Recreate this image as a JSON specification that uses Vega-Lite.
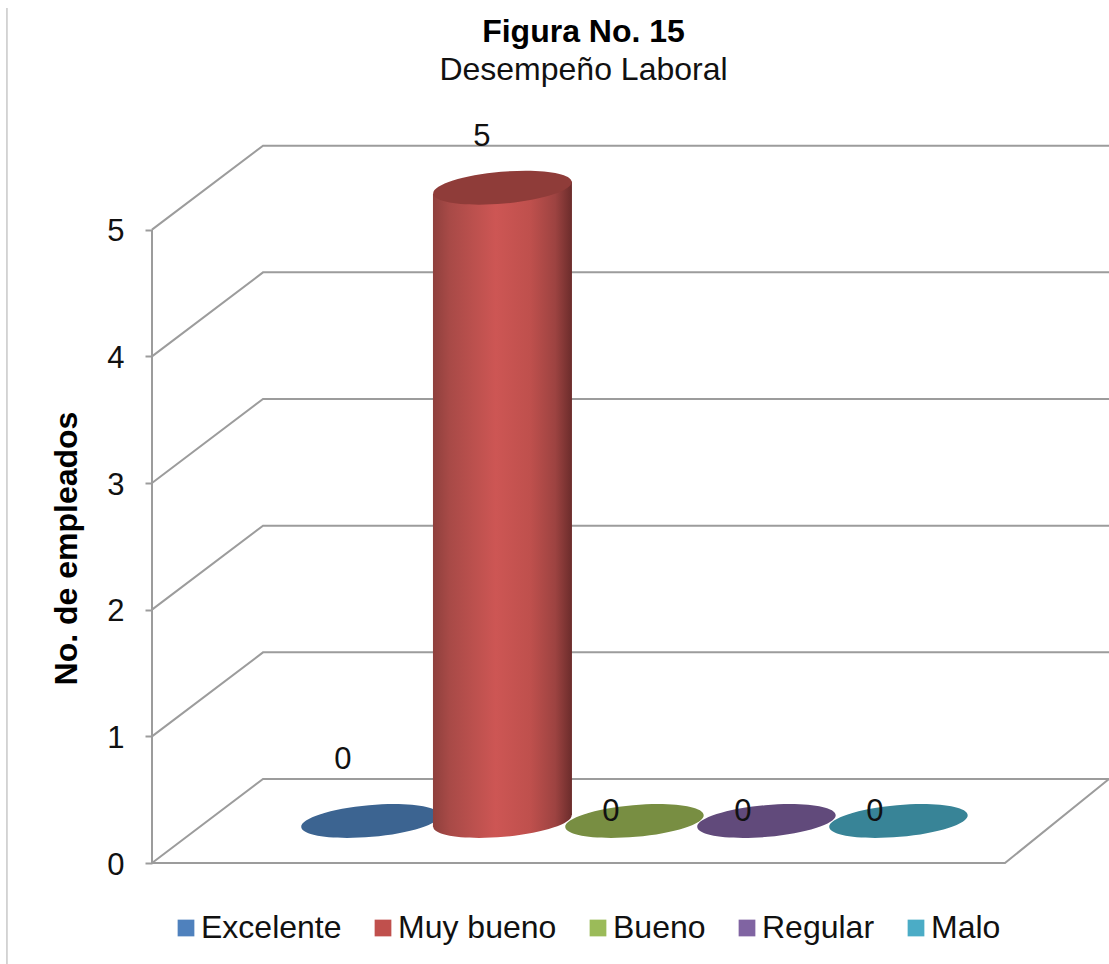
{
  "$schema": "https://vega.github.io/schema/vega-lite/v6.json",
  "autosize": {"type": "none"},
  "padding": {"left": 152, "top": 103, "right": 0, "bottom": 101},
  "width": 957,
  "height": 760,
  "background": "white",
  "view": {"stroke": null},
  "title": {
    "text": "Figura No. 15",
    "subtitle": "Desempeño Laboral",
    "anchor": "middle",
    "frame": "group",
    "dx": -47,
    "offset": -82,
    "font": "Liberation Sans",
    "fontSize": 32,
    "fontWeight": "bold",
    "color": "#000000",
    "subtitleFont": "Liberation Sans",
    "subtitleFontSize": 32,
    "subtitleColor": "#111111",
    "subtitlePadding": 6
  },
  "datasets": {
    "desempeno": [
      {"categoria": "Excelente", "pos": 1, "empleados": 0},
      {"categoria": "Muy bueno", "pos": 2, "empleados": 5},
      {"categoria": "Bueno", "pos": 3, "empleados": 0},
      {"categoria": "Regular", "pos": 4, "empleados": 0},
      {"categoria": "Malo", "pos": 5, "empleados": 0}
    ],
    "cuerpo": [
      {"x": 1.4735, "tope": 4.952, "base": -0.048},
      {"x": 2.5265, "tope": 5.048, "base": 0.048}
    ],
    "marco": [
      {"tramo": "eje", "x": -0.655, "y": 0},
      {"tramo": "eje", "x": -0.655, "y": 5},
      {"tramo": "frente", "x": -0.655, "y": 0},
      {"tramo": "frente", "x": 5.807, "y": 0},
      {"tramo": "frente", "x": 6.595, "y": 0.663},
      {"tramo": "n0", "x": -0.655, "y": 0},
      {"tramo": "n0", "x": 0.186, "y": 0.663},
      {"tramo": "n0", "x": 6.595, "y": 0.663},
      {"tramo": "n1", "x": -0.655, "y": 1},
      {"tramo": "n1", "x": 0.186, "y": 1.663},
      {"tramo": "n1", "x": 6.595, "y": 1.663},
      {"tramo": "n2", "x": -0.655, "y": 2},
      {"tramo": "n2", "x": 0.186, "y": 2.663},
      {"tramo": "n2", "x": 6.595, "y": 2.663},
      {"tramo": "n3", "x": -0.655, "y": 3},
      {"tramo": "n3", "x": 0.186, "y": 3.663},
      {"tramo": "n3", "x": 6.595, "y": 3.663},
      {"tramo": "n4", "x": -0.655, "y": 4},
      {"tramo": "n4", "x": 0.186, "y": 4.663},
      {"tramo": "n4", "x": 6.595, "y": 4.663},
      {"tramo": "n5", "x": -0.655, "y": 5},
      {"tramo": "n5", "x": 0.186, "y": 5.663},
      {"tramo": "n5", "x": 6.595, "y": 5.663}
    ],
    "borde": [
      {"x": -1.754, "y": 6.75},
      {"x": -1.754, "y": -0.8}
    ]
  },
  "layer": [
    {
      "data": {"name": "marco"},
      "mark": {"type": "line", "color": "#9c9c9c", "strokeWidth": 2},
      "encoding": {
        "detail": {"field": "tramo"},
        "x": {
          "field": "x",
          "type": "quantitative",
          "scale": {"domain": [-0.655, 6.595], "nice": false, "zero": false, "padding": 0},
          "axis": null
        },
        "y": {
          "field": "y",
          "type": "quantitative",
          "scale": {"domain": [0, 6], "nice": false, "zero": false},
          "axis": {
            "title": "No. de empleados",
            "values": [0, 1, 2, 3, 4, 5],
            "grid": false,
            "domain": false,
            "format": "d",
            "tickColor": "#9c9c9c",
            "tickWidth": 2,
            "tickSize": 7,
            "labelFont": "Liberation Sans",
            "labelFontSize": 31,
            "labelColor": "#111111",
            "labelPadding": 21,
            "labelOffset": 2,
            "titleFont": "Liberation Sans",
            "titleFontSize": 32,
            "titleFontWeight": "bold",
            "titleColor": "#000000",
            "titleX": -86,
            "titleY": 445,
            "titleAngle": -90,
            "titleAlign": "center",
            "titleBaseline": "middle"
          }
        }
      }
    },
    {
      "data": {"name": "borde"},
      "mark": {"type": "line", "color": "#c8c8c8", "strokeWidth": 1.5},
      "encoding": {
        "x": {"field": "x", "type": "quantitative"},
        "y": {"field": "y", "type": "quantitative"}
      }
    },
    {
      "data": {"name": "desempeno"},
      "mark": {"type": "bar", "orient": "vertical", "width": 120, "yOffset": -42, "y2Offset": -42},
      "encoding": {
        "x": {"field": "pos", "type": "quantitative"},
        "y": {"field": "empleados", "type": "quantitative", "stack": null},
        "y2": {"datum": 0},
        "color": {
          "field": "categoria",
          "type": "nominal",
          "sort": ["Excelente", "Muy bueno", "Bueno", "Regular", "Malo"],
          "scale": {
            "domain": ["Excelente", "Muy bueno", "Bueno", "Regular", "Malo"],
            "range": ["#4f81bd", "#c0504d", "#9bbb59", "#8064a2", "#4bacc6"]
          },
          "legend": {
            "title": null,
            "orient": "none",
            "legendX": 18,
            "legendY": 809,
            "direction": "horizontal",
            "columns": 5,
            "symbolType": "square",
            "symbolSize": 280,
            "symbolStrokeWidth": 0,
            "labelFont": "Liberation Sans",
            "labelFontSize": 32,
            "labelColor": "#111111",
            "labelOffset": -1,
            "columnPadding": 25,
            "labelLimit": 300
          }
        }
      }
    },
    {
      "data": {"name": "desempeno"},
      "transform": [{"filter": "datum.pos === 1"}],
      "mark": {
        "type": "point",
        "filled": true,
        "opacity": 1,
        "size": 19321,
        "yOffset": -42,
        "shape": "M -0.9962 0.0872 A 1 0.229 -5 1 1 0.9962 -0.0872 A 1 0.229 -5 1 1 -0.9962 0.0872 Z"
      },
      "encoding": {
        "x": {"field": "pos", "type": "quantitative"},
        "y": {"field": "empleados", "type": "quantitative"},
        "fill": {
          "field": "categoria",
          "type": "nominal",
          "scale": {
            "domain": ["Excelente", "Muy bueno", "Bueno", "Regular", "Malo"],
            "range": ["#3c6491", "#8f3c39", "#788e42", "#614a7b", "#388497"]
          },
          "legend": null
        }
      }
    },
    {
      "data": {"name": "desempeno"},
      "transform": [{"filter": "datum.empleados > 0"}],
      "mark": {
        "type": "point",
        "filled": true,
        "opacity": 1,
        "size": 19321,
        "yOffset": -42,
        "shape": "M -0.9962 0.0872 A 1 0.229 -5 1 1 0.9962 -0.0872 A 1 0.229 -5 1 1 -0.9962 0.0872 Z",
        "fill": {
          "gradient": "linear", "x1": 0, "x2": 1, "y1": 0, "y2": 0,
          "stops": [
            {"offset": 0, "color": "#8f403d"},
            {"offset": 0.12, "color": "#a84a47"},
            {"offset": 0.45, "color": "#cd5654"},
            {"offset": 0.7, "color": "#bf504d"},
            {"offset": 0.88, "color": "#9d4341"},
            {"offset": 1, "color": "#6b2c2b"}
          ]
        }
      },
      "encoding": {
        "x": {"field": "pos", "type": "quantitative"},
        "y": {"datum": 0, "type": "quantitative"}
      }
    },
    {
      "data": {"name": "cuerpo"},
      "mark": {
        "type": "area",
        "yOffset": -42,
        "y2Offset": -42,
        "fill": {
          "gradient": "linear", "x1": 0, "x2": 1, "y1": 0, "y2": 0,
          "stops": [
            {"offset": 0, "color": "#8f403d"},
            {"offset": 0.12, "color": "#a84a47"},
            {"offset": 0.45, "color": "#cd5654"},
            {"offset": 0.7, "color": "#bf504d"},
            {"offset": 0.88, "color": "#9d4341"},
            {"offset": 1, "color": "#6b2c2b"}
          ]
        }
      },
      "encoding": {
        "x": {"field": "x", "type": "quantitative"},
        "y": {"field": "tope", "type": "quantitative", "stack": null},
        "y2": {"field": "base"}
      }
    },
    {
      "data": {"name": "desempeno"},
      "transform": [{"filter": "datum.pos >= 2"}],
      "mark": {
        "type": "point",
        "filled": true,
        "opacity": 1,
        "size": 19321,
        "yOffset": -42,
        "shape": "M -0.9962 0.0872 A 1 0.229 -5 1 1 0.9962 -0.0872 A 1 0.229 -5 1 1 -0.9962 0.0872 Z"
      },
      "encoding": {
        "x": {"field": "pos", "type": "quantitative"},
        "y": {"field": "empleados", "type": "quantitative"},
        "fill": {"field": "categoria", "type": "nominal", "legend": null}
      }
    },
    {
      "data": {"name": "desempeno"},
      "transform": [{"filter": "datum.pos === 1"}],
      "mark": {"type": "text", "font": "Liberation Sans", "fontSize": 31, "color": "#111111", "baseline": "middle", "xOffset": -27.5, "yOffset": -103},
      "encoding": {
        "x": {"field": "pos", "type": "quantitative"},
        "y": {"field": "empleados", "type": "quantitative"},
        "text": {"field": "empleados", "type": "quantitative"}
      }
    },
    {
      "data": {"name": "desempeno"},
      "transform": [{"filter": "datum.pos === 2"}],
      "mark": {"type": "text", "font": "Liberation Sans", "fontSize": 31, "color": "#111111", "baseline": "middle", "xOffset": -20.5, "yOffset": -93},
      "encoding": {
        "x": {"field": "pos", "type": "quantitative"},
        "y": {"field": "empleados", "type": "quantitative"},
        "text": {"field": "empleados", "type": "quantitative"}
      }
    },
    {
      "data": {"name": "desempeno"},
      "transform": [{"filter": "datum.pos >= 3"}],
      "mark": {"type": "text", "font": "Liberation Sans", "fontSize": 31, "color": "#111111", "baseline": "middle", "xOffset": -23.5, "yOffset": -51},
      "encoding": {
        "x": {"field": "pos", "type": "quantitative"},
        "y": {"field": "empleados", "type": "quantitative"},
        "text": {"field": "empleados", "type": "quantitative"}
      }
    }
  ]
}
